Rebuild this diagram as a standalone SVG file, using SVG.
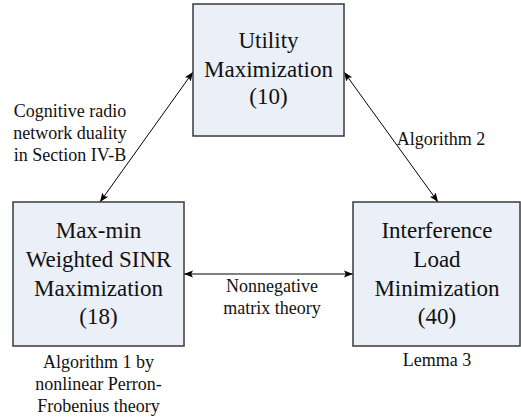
<svg xmlns="http://www.w3.org/2000/svg" width="521" height="419" viewBox="0 0 521 419">
<defs>
<marker id="ah" viewBox="0 0 10 10" refX="10" refY="5" markerWidth="9" markerHeight="9" markerUnits="userSpaceOnUse" orient="auto-start-reverse">
<path d="M0,1 L10,5 L0,9 L2,5 z" fill="#000"/>
</marker>
<style>
.box{fill:#ebeff7;stroke:#3a3a3a;stroke-width:1.5}
.bt{font-family:"Liberation Serif","Times New Roman",serif;font-size:23px;fill:#111;text-anchor:middle}
.lb{font-family:"Liberation Serif","Times New Roman",serif;font-size:18px;fill:#111;text-anchor:middle}
.cn{stroke:#000;stroke-width:1;fill:none;marker-start:url(#ah);marker-end:url(#ah)}
</style>
</defs>
<rect width="521" height="419" fill="#fff"/>
<g id="connectors">
<line class="cn" x1="100" y1="202" x2="193" y2="72"/>
<line class="cn" x1="344" y1="72" x2="438" y2="202"/>
<line class="cn" x1="184" y1="274" x2="353" y2="274"/>
</g>
<g id="utility">
<rect class="box" x="193" y="4" width="151" height="132"/>
<text class="bt" x="268.5" y="48">Utility</text>
<text class="bt" x="268.5" y="77">Maximization</text>
<text class="bt" x="268.5" y="104">(10)</text>
</g>
<g id="maxmin">
<rect class="box" x="13" y="202" width="171" height="144"/>
<text class="bt" x="98.5" y="238">Max-min</text>
<text class="bt" x="98.5" y="267">Weighted SINR</text>
<text class="bt" x="98.5" y="296">Maximization</text>
<text class="bt" x="98.5" y="324">(18)</text>
</g>
<g id="interference">
<rect class="box" x="353" y="202" width="167" height="144"/>
<text class="bt" x="437" y="238">Interference</text>
<text class="bt" x="437" y="267">Load</text>
<text class="bt" x="437" y="296">Minimization</text>
<text class="bt" x="437" y="324">(40)</text>
</g>
<g id="labels">
<text class="lb" x="70" y="117">Cognitive radio</text>
<text class="lb" x="70" y="139">network duality</text>
<text class="lb" x="70" y="161">in Section IV-B</text>
<text class="lb" x="441" y="145">Algorithm 2</text>
<text class="lb" x="272" y="292">Nonnegative</text>
<text class="lb" x="272" y="314">matrix theory</text>
<text class="lb" x="98.5" y="368">Algorithm 1 by</text>
<text class="lb" x="98.5" y="390">nonlinear Perron-</text>
<text class="lb" x="98.5" y="412">Frobenius theory</text>
<text class="lb" x="437" y="366">Lemma 3</text>
</g>
</svg>
